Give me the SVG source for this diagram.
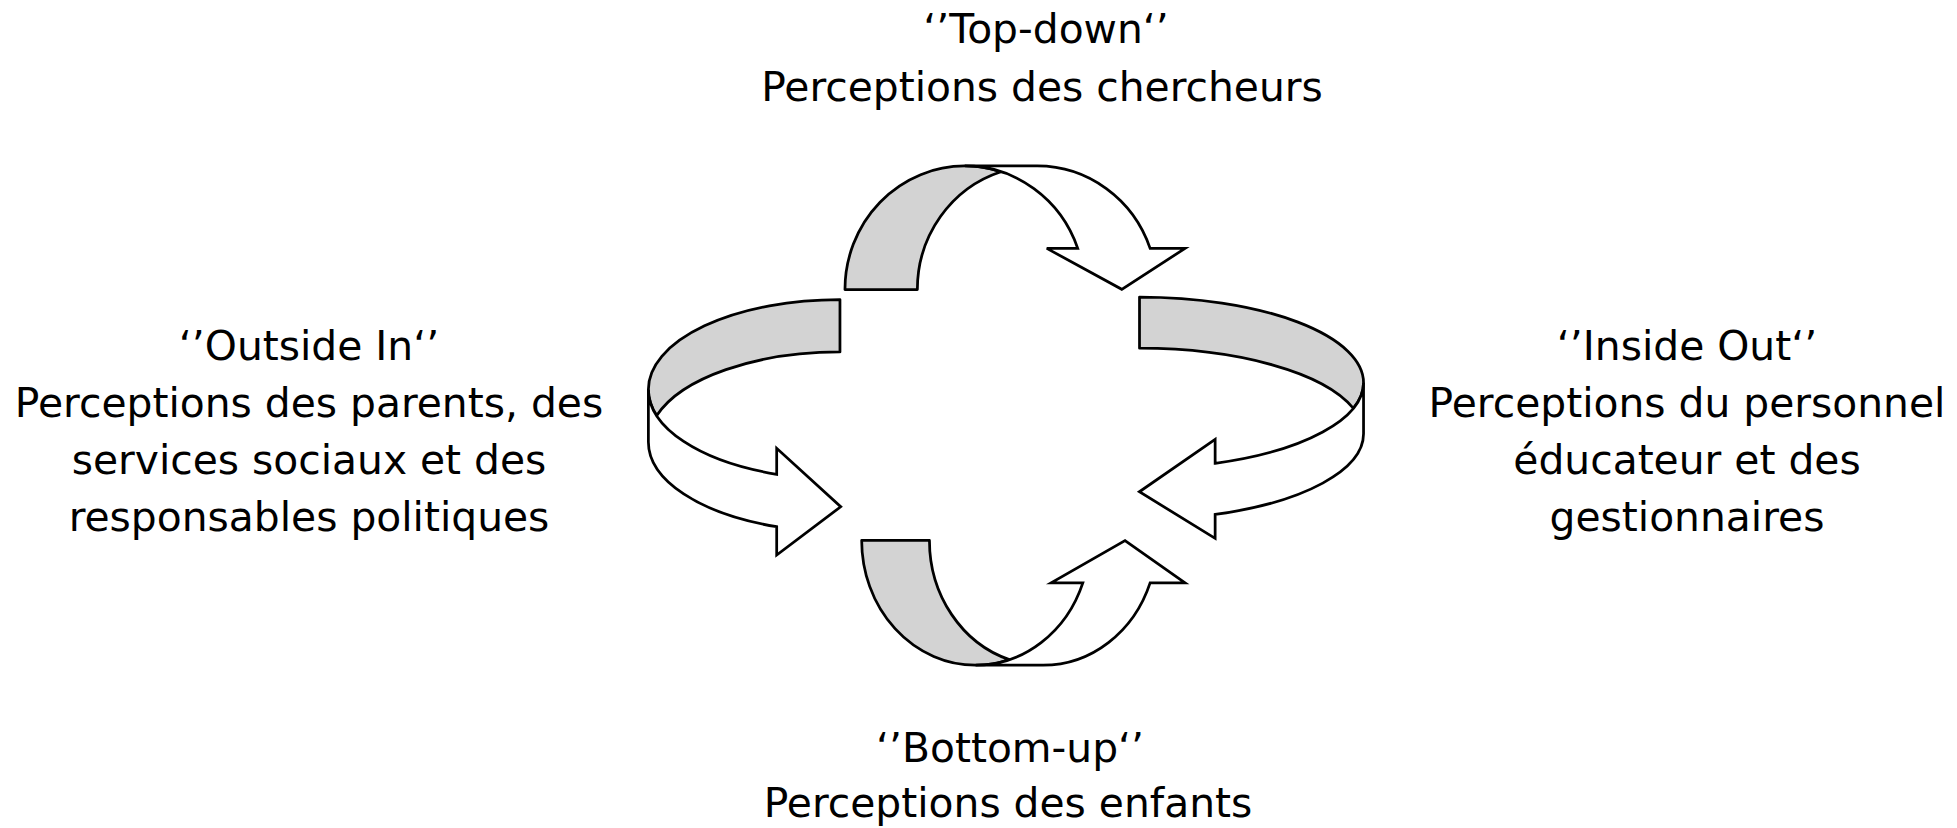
<svg xmlns="http://www.w3.org/2000/svg" width="1957" height="828" viewBox="0 0 1957 828">
<style>
.lbl{font-family:"DejaVu Sans","Liberation Sans",sans-serif;font-size:40.8px;fill:#000;text-anchor:middle}
.back{fill:#d3d3d3;stroke:#000;stroke-width:2.2;stroke-linejoin:round}
.front{fill:#fff;stroke:#000;stroke-width:2.2;stroke-linejoin:miter}
</style>
<rect width="1957" height="828" fill="#fff"/>
<g id="connectors" transform="scale(1.24809)">
  <g id="arrow-top">
    <path class="back" d="M677,232 A96,99 0 0 1 773,133 A96,99 0 0 1 802,137.6 A96,99 0 0 0 735,232 Z"/>
    <path class="front" d="M773,133 L831,133 A96,99 0 0 1 921.5,199 L949.5,199 L898.8,231.8 L838.7,199 L863.5,199 A96,99 0 0 0 773,133 Z"/>
  </g>
  <g id="arrow-right">
    <path class="back" d="M913,238 A179.5,68.6 0 0 1 1092.5,306.6 A179.5,68.6 0 0 1 1084.3,327.1 A179.5,68.6 0 0 0 913,279 Z"/>
    <path class="front" d="M1092.5,306.6 A179.5,68.6 0 0 1 973.6,371.2 L973.6,352 L912.9,394 L973.6,431.3 L973.6,412.2 A179.5,68.6 0 0 0 1092.5,347.6 Z"/>
  </g>
  <g id="arrow-bottom">
    <path class="back" d="M690.4,433 A91.3,100 0 0 0 781.7,533 A91.3,100 0 0 0 808.7,528.5 A91.3,100 0 0 1 744.7,433 Z"/>
    <path class="front" d="M781.7,533 L835.7,533 A91.3,100 0 0 0 921.5,467 L949.5,467 L901.4,433.2 L842.2,467 L867.6,467 A91.3,100 0 0 1 781.7,533 Z"/>
  </g>
  <g id="arrow-left">
    <path class="back" d="M673,240 A153.5,72 0 0 0 519.5,312 A153.5,72 0 0 0 526.2,333 A153.5,72 0 0 1 673,282 Z"/>
    <path class="front" d="M519.5,312 A153.5,72 0 0 0 622.3,380 L622.3,359.2 L673.6,406 L622.3,444.7 L622.3,422 A153.5,72 0 0 1 519.5,354 Z"/>
  </g>
</g>
<g id="node-top">
  <text class="lbl" x="1046" y="43">‘’Top-down‘’</text>
  <text class="lbl" x="1042" y="101">Perceptions des chercheurs</text>
</g>
<g id="node-left">
  <text class="lbl" x="309" y="360">‘’Outside In‘’</text>
  <text class="lbl" x="309" y="417">Perceptions des parents, des</text>
  <text class="lbl" x="309" y="474">services sociaux et des</text>
  <text class="lbl" x="309" y="531">responsables politiques</text>
</g>
<g id="node-right">
  <text class="lbl" x="1687" y="360">‘’Inside Out‘’</text>
  <text class="lbl" x="1687" y="417">Perceptions du personnel</text>
  <text class="lbl" x="1687" y="474">éducateur et des</text>
  <text class="lbl" x="1687" y="531">gestionnaires</text>
</g>
<g id="node-bottom">
  <text class="lbl" x="1010" y="762">‘’Bottom-up‘’</text>
  <text class="lbl" x="1008" y="817">Perceptions des enfants</text>
</g>
</svg>
